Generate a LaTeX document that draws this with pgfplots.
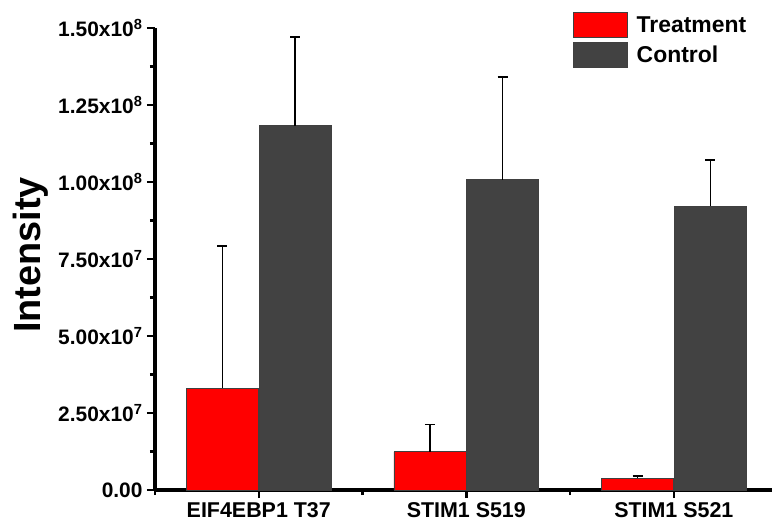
\documentclass[border=0pt]{standalone}
\usepackage{fontspec}
\setmainfont{Liberation Sans}
\usepackage{pgfplots}
\pgfplotsset{compat=1.18}
\definecolor{tred}{HTML}{FF0000}
\definecolor{cgray}{HTML}{424242}
\begin{document}
\begin{tikzpicture}
\path[use as bounding box] (0,0) rectangle (772bp,532bp);
\begin{axis}[
  at={(155bp,42bp)}, anchor=south west,
  scale only axis, width=617bp, height=462bp,
  xmin=-0.5, xmax=2.473, ymin=0, ymax=1.5e8,
  axis lines*=left,
  separate axis lines,
  every outer x axis line/.append style={line width=3bp, black},
  every outer y axis line/.append style={line width=3bp, black},
  every inner x axis line/.append style={line width=3bp, black},
  every inner y axis line/.append style={line width=3bp, black},
  axis line style={line width=3bp, black},
  clip=false,
  xtick={0,1,2},
  xticklabels={EIF4EBP1 T37, STIM1 S519, STIM1 S521},
  minor xtick={-0.5,0.5,1.5},
  ytick={0,2.5e7,5e7,7.5e7,1e8,1.25e8,1.5e8},
  yticklabels={0.00, 2.50x10\textsuperscript{7}, 5.00x10\textsuperscript{7}, 7.50x10\textsuperscript{7}, 1.00x10\textsuperscript{8}, 1.25x10\textsuperscript{8}, 1.50x10\textsuperscript{8}},
  minor ytick={1.25e7,3.75e7,6.25e7,8.75e7,1.125e8,1.375e8},
  scaled y ticks=false,
  tick align=outside,
  major tick length=8bp, minor tick length=5bp,
  tick style={line width=2.4bp, black},
  yticklabel style={font=\bfseries\fontsize{21}{24}\selectfont, xshift=-1bp},
  xticklabel style={font=\bfseries\fontsize{21.5}{24}\selectfont, yshift=-1bp},
  ylabel={Intensity},
  ylabel style={font=\bfseries\fontsize{38}{42}\selectfont, at={(axis description cs:-0.1855,0.509)}, anchor=base},
  legend style={at={(axis description cs:0.677,1.035)}, anchor=north west, draw=none, fill=none,
    font=\bfseries\fontsize{23}{26}\selectfont, row sep=4bp, inner sep=0pt,
    /tikz/every odd column/.append style={column sep=7bp}},
  legend cell align=left,
  legend image code/.code={\draw[#1,line width=0.8bp] (0bp,-12.5bp) rectangle (54bp,12.5bp);},
  error bars/y dir=plus, error bars/y explicit,
  error bars/error bar style={line width=1.3bp, black},
  error bars/error mark options={rotate=90, mark size=5bp, line width=1.5bp, black},
]
\addplot[ybar, bar width=72bp, bar shift=0pt, fill=tred, draw=black!75, line width=0.8bp]
  table[x=x, y=y, y error=e] {
x y e
-0.175 33.1e6 46.1e6
0.825 12.4e6 8.9e6
1.825 3.8e6 0.7e6
};
\addlegendentry{Treatment}
\addplot[ybar, bar width=72bp, bar shift=0pt, fill=cgray, draw=black!75, line width=0.8bp]
  table[x=x, y=y, y error=e] {
x y e
0.175 118.3e6 28.7e6
1.175 100.7e6 33.4e6
2.175 92.2e6 15.0e6
};
\addlegendentry{Control}
\end{axis}
\end{tikzpicture}
\end{document}
